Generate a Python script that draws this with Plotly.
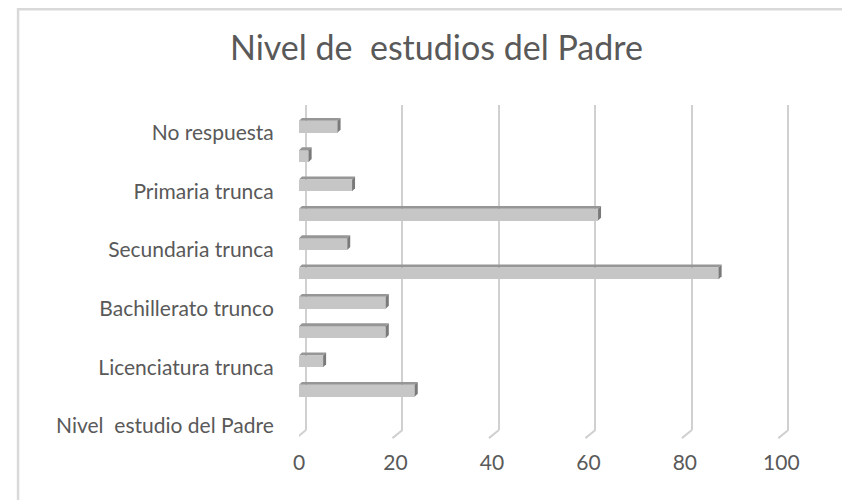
import plotly.graph_objects as go

# categories listed bottom to top (Excel bar order); only every other label is shown
categories = ['Nivel  estudio del Padre', 'Licenciatura terminada', 'Licenciatura trunca',
              'Bachillerato terminado', 'Bachillerato trunco', 'Secundaria terminada',
              'Secundaria trunca', 'Primaria terminada', 'Primaria trunca',
              'Sin estudios', 'No respuesta']
values = [0, 24, 5, 18, 18, 87, 10, 62, 11, 2, 8]
x_ticks = [0, 20, 40, 60, 80, 100]

pos = list(range(len(categories)))
bar_w = 0.4
dx, dy = 0.62, 0.1   # depth of the fake 3D faces (data units)
font = 'Lato, Open Sans, sans-serif'
grey_txt = '#595959'
grid_col = '#d0d0d0'

fig = go.Figure()

fig.add_trace(go.Bar(
    x=values, y=pos, orientation='h', width=bar_w,
    marker=dict(color='#c6c6c6', line=dict(width=0)),
    hoverinfo='x+text', hovertext=categories, showlegend=False
))

# invisible trace so the shifted grid axis is drawn
fig.add_trace(go.Scatter(x=[0], y=[0], xaxis='x2', mode='markers',
                         marker=dict(opacity=0), hoverinfo='skip', showlegend=False))

shapes = []
for p, v in zip(pos, values):
    if v <= 0:
        continue
    top = p + bar_w / 2
    bot = p - bar_w / 2
    # top face
    shapes.append(dict(type='path', xref='x', yref='y', layer='above',
                       path=f'M 0,{top} L {v},{top} L {v + dx},{top + dy} L {dx},{top + dy} Z',
                       fillcolor='#969696', line=dict(width=0)))
    # end face
    shapes.append(dict(type='path', xref='x', yref='y', layer='above',
                       path=f'M {v},{bot} L {v},{top} L {v + dx},{top + dy} L {v + dx},{bot + dy} Z',
                       fillcolor='#7a7a7a', line=dict(width=0)))

# floor strokes under each gridline
for t in x_ticks:
    shapes.append(dict(type='line', xref='x2', yref='paper',
                       x0=t, y0=0, x1=t - 2.07, y1=-0.025,
                       line=dict(color=grid_col, width=2)))

# chart border
shapes.append(dict(type='rect', xref='paper', yref='paper',
                   x0=-0.571, x1=1.114, y0=-0.3, y1=1.295,
                   line=dict(color='#d9d9d9', width=2.5), fillcolor='rgba(0,0,0,0)'))

fig.update_layout(
    width=850, height=500,
    margin=dict(l=291, r=67, t=97, b=78),
    paper_bgcolor='white', plot_bgcolor='white',
    title=dict(text='Nivel de  estudios del Padre', x=0.504, xref='container', xanchor='center',
               y=0.92, yref='container', yanchor='middle',
               font=dict(family=font, size=34, color=grey_txt)),
    font=dict(family=font, size=21, color=grey_txt),
    bargap=0,
    xaxis=dict(range=[0, 102], tickvals=x_ticks, showgrid=False, zeroline=False,
               showline=False, ticks='outside', ticklen=14, tickcolor='rgba(0,0,0,0)',
               tickfont=dict(size=21, color=grey_txt), fixedrange=True),
    xaxis2=dict(range=[-1.45, 100.55], overlaying='x', side='bottom', anchor='y',
                tickvals=x_ticks, showgrid=True, gridcolor=grid_col, gridwidth=2,
                zeroline=False, showticklabels=False, showline=False),
    yaxis=dict(range=[-0.34, 10.74], tickvals=pos[::2], ticktext=categories[::2],
               showgrid=False, zeroline=False, showline=False,
               ticks='outside', ticklen=20, tickcolor='rgba(0,0,0,0)',
               ticklabelshift=6,
               tickfont=dict(size=21, color=grey_txt)),
    shapes=shapes,
)

fig.write_html('out.html')
